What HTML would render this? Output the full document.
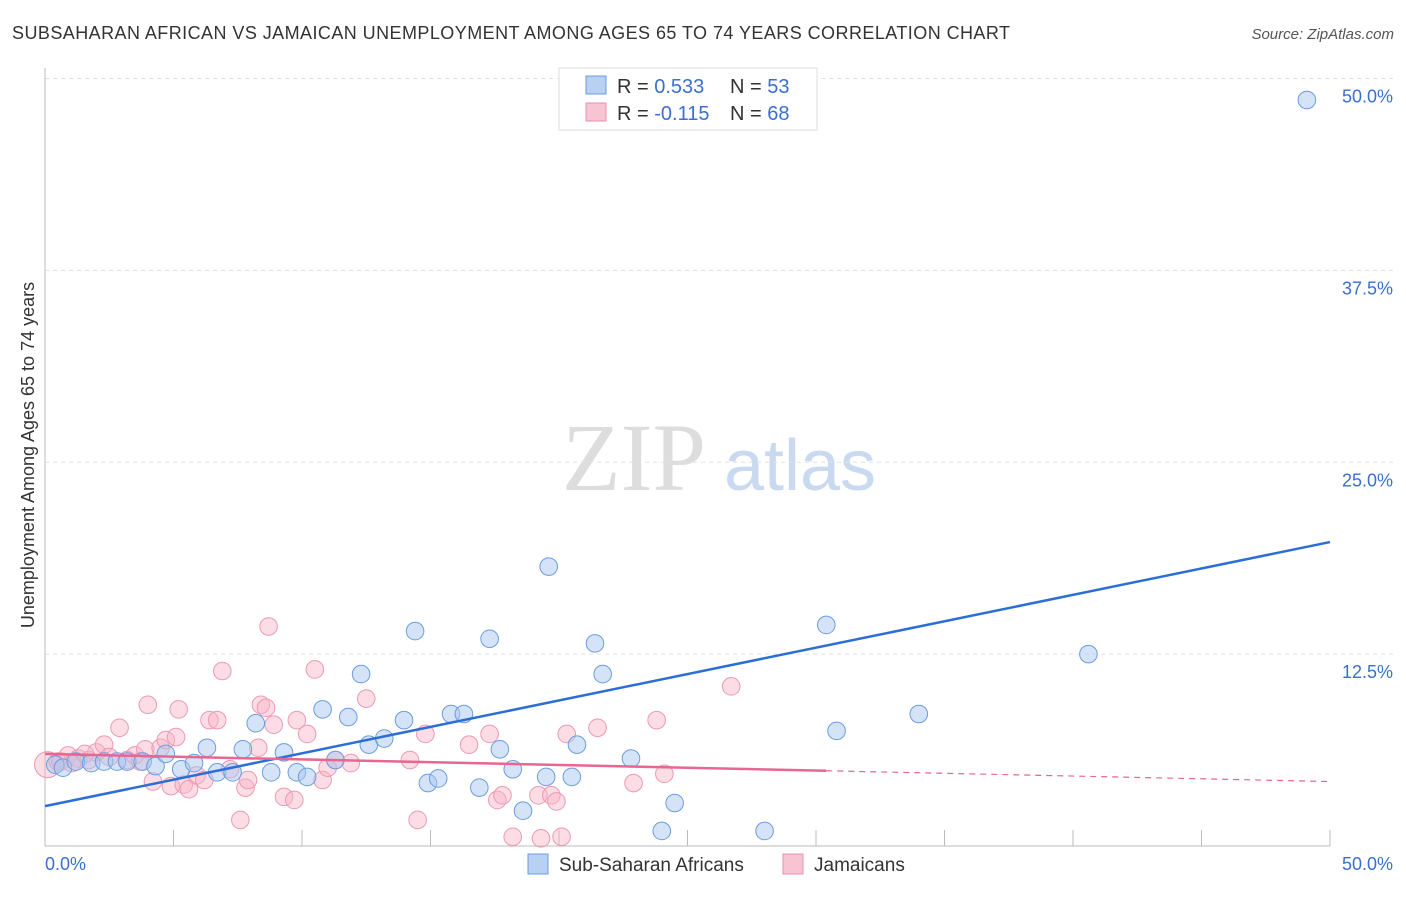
<!DOCTYPE html>
<html><head><meta charset="utf-8"><style>
body{margin:0;background:#fff;font-family:"Liberation Sans",sans-serif}
</style></head><body>
<svg id="c" width="1406" height="892" xmlns="http://www.w3.org/2000/svg" font-family="Liberation Sans, sans-serif">
<text x="12" y="39" font-size="18" fill="#333" textLength="998">SUBSAHARAN AFRICAN VS JAMAICAN UNEMPLOYMENT AMONG AGES 65 TO 74 YEARS CORRELATION CHART</text>
<text x="1394" y="39" font-size="15" fill="#555" font-style="italic" text-anchor="end">Source: ZipAtlas.com</text>
<text x="634" y="490" font-size="96" fill="#ddd" text-anchor="middle" font-family="Liberation Serif, serif">ZIP</text>
<text x="800" y="490" font-size="72" fill="#c9daf0" text-anchor="middle">atlas</text>
<text x="34" y="455" font-size="18" fill="#333" text-anchor="middle" transform="rotate(-90 34 455)">Unemployment Among Ages 65 to 74 years</text>
<g id="grid"></g><g id="pts"></g><g id="lines"></g>
<g>
<rect x="559" y="68" width="258" height="62" fill="#fff" stroke="#ddd"/>
<rect x="586" y="76" width="20" height="18" fill="#b8d0f2" stroke="#6b9de0"/>
<rect x="586" y="103" width="20" height="18" fill="#f8c4d4" stroke="#e890aa"/>
<text x="617" y="93" font-size="20" fill="#333">R = <tspan fill="#3a6fd0">0.533</tspan></text>
<text x="730" y="93" font-size="20" fill="#333">N = <tspan fill="#3a6fd0">53</tspan></text>
<text x="617" y="120" font-size="20" fill="#333">R = <tspan fill="#3a6fd0">-0.115</tspan></text>
<text x="730" y="120" font-size="20" fill="#333">N = <tspan fill="#3a6fd0">68</tspan></text>
</g>
<g>
<rect x="528" y="854" width="20" height="20" fill="#b8d0f2" stroke="#6b9de0"/>
<text x="559" y="871" font-size="19" fill="#333">Sub-Saharan Africans</text>
<rect x="783" y="854" width="20" height="20" fill="#f8c4d4" stroke="#e890aa"/>
<text x="814" y="871" font-size="19" fill="#333">Jamaicans</text>
</g>
<text x="45" y="870" font-size="18" fill="#3a6fd0">0.0%</text>
<text x="1393" y="870" font-size="18" fill="#3a6fd0" text-anchor="end">50.0%</text>
</svg>
<script>
const yTicks=[12.5,25,37.5,50];
const blueX=[0.4,0.7,1.2,1.8,2.3,2.8,3.2,3.8,4.3,4.7,5.3,5.8,6.3,6.7,7.3,7.7,8.2,8.8,9.3,9.8,10.2,10.8,11.3,11.8,12.3,12.6,13.2,13.97,14.4,14.9,15.3,15.8,16.3,16.9,17.3,17.7,18.2,18.6,19.5,19.6,20.5,20.7,21.4,21.7,22.8,24.0,24.5,28.0,30.4,30.8,34.0,40.6,49.1];
const blueY=[5.3,5.1,5.5,5.4,5.5,5.5,5.5,5.5,5.2,6.0,5.0,5.4,6.4,4.8,4.8,6.3,8.0,4.8,6.1,4.8,4.5,8.9,5.6,8.4,11.2,6.6,7.0,8.2,14.0,4.1,4.4,8.6,8.6,3.8,13.5,6.3,5.0,2.3,4.5,18.2,4.5,6.6,13.2,11.2,5.7,0.98,2.8,0.98,14.4,7.5,8.6,12.5,48.6];
const pinkX=[0.1,0.5,0.9,1.3,1.7,2.0,2.3,2.5,2.9,3.2,3.5,3.9,4.0,4.2,4.5,4.7,4.9,5.1,5.2,5.4,5.6,5.9,6.4,6.7,6.9,7.2,7.6,7.8,7.9,8.3,8.4,8.6,8.7,8.9,9.3,9.7,9.8,10.2,10.5,10.8,11.0,11.3,11.9,12.5,14.2,14.5,14.8,16.5,17.3,17.6,17.8,18.2,19.2,19.3,19.7,19.9,20.1,20.3,21.5,22.9,23.8,24.1,26.7,0.6,1.05,1.55,3.7,6.2];
const pinkY=[5.3,5.5,5.9,5.7,5.6,6.1,6.6,5.8,7.7,5.6,5.9,6.3,9.2,4.2,6.4,6.9,3.9,7.1,8.9,4.0,3.7,4.6,8.2,8.2,11.4,5.0,1.7,3.8,4.3,6.4,9.2,9.0,14.3,7.9,3.2,3.0,8.2,7.3,11.5,4.3,5.1,5.6,5.4,9.6,5.6,1.7,7.3,6.6,7.3,3.0,3.3,0.6,3.3,0.5,3.3,2.9,0.6,7.3,7.7,4.1,8.2,4.7,10.4,5.5,5.4,6.0,5.5,4.3];
const X=v=>45+v*25.7, Y=v=>846-v*15.35;
const NS='http://www.w3.org/2000/svg';
function mk(t,a,p){const e=document.createElementNS(NS,t);for(const k in a)e.setAttribute(k,a[k]);p.appendChild(e);return e;}
const g=document.getElementById('grid');
yTicks.forEach(t=>{
 const l=mk('line',{x1:45,x2:1393,y1:Y(t),y2:Y(t),stroke:'#e2e2e2','stroke-dasharray':'4,4'},g);
 
 
 const tx=mk('text',{x:1393,y:Y(t)+24,'font-size':18,fill:'#3a6fd0','text-anchor':'end'},g);
 tx.textContent=t.toFixed(1)+'%';
 
 
});
mk('line',{x1:45,x2:45,y1:68,y2:846,stroke:'#bbb'},g);
mk('line',{x1:45,x2:1330,y1:846,y2:846,stroke:'#bbb'},g);
for(let i=1;i<=10;i++){const x=X(i*5);mk('line',{x1:x,x2:x,y1:830,y2:846,stroke:'#bbb'},g);}
const p=document.getElementById('pts');
pinkX.forEach((v,i)=>{const c=mk('circle',{cx:X(v),cy:Y(pinkY[i]),r:i==0?13:8.8,fill:'rgba(248,180,200,0.45)',stroke:'#eb9ab2','stroke-width':1},p);
 
 });
blueX.forEach((v,i)=>{const c=mk('circle',{cx:X(v),cy:Y(blueY[i]),r:8.8,fill:'rgba(170,200,240,0.5)',stroke:'#6b9de0','stroke-width':1},p);
 
 });
const L=document.getElementById('lines');
const bl=mk('line',{x1:X(0),y1:Y(2.6),x2:X(50),y2:Y(19.8),stroke:'#2a6ed6','stroke-width':2.5},L);


const pl=mk('line',{x1:X(0),y1:Y(6.0),x2:X(30.4),y2:Y(4.9),stroke:'#e8668f','stroke-width':2.5},L);


const pd=mk('line',{x1:X(30.4),y1:Y(4.9),x2:X(50),y2:Y(4.2),stroke:'#e8668f','stroke-width':1.2,'stroke-dasharray':'6,5'},L);


</script>
</body></html>
